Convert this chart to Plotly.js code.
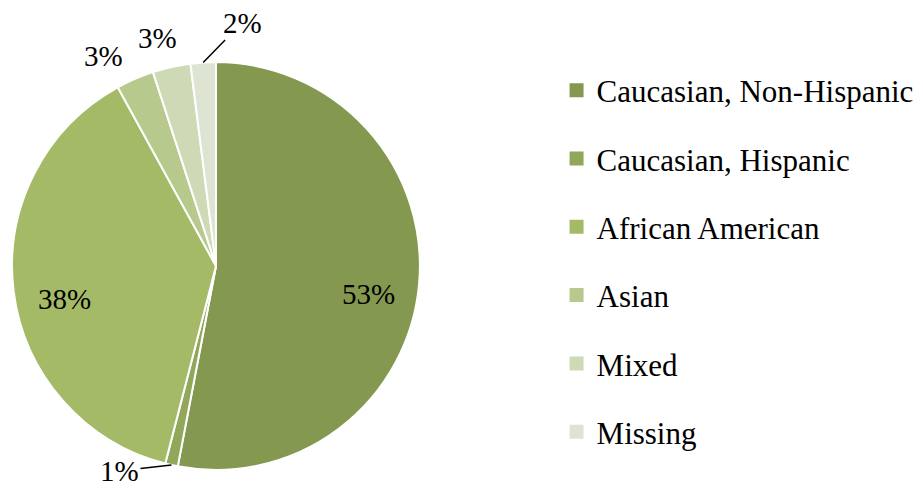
<!DOCTYPE html>
<html><head><meta charset="utf-8">
<script src="https://cdn.plot.ly/plotly-3.0.1.min.js"></script>
<style>html,body{margin:0;padding:0;background:#fff}#chart{width:923px;height:489px}</style>
</head><body><div id="chart"></div>
<script>
const categories = ["Caucasian, Non-Hispanic","Caucasian, Hispanic","African American","Asian","Mixed","Missing"];
const values = [53, 1, 38, 3, 3, 2];
const colors = ["#84994F","#92A75A","#A5BA67","#B7C98D","#CDDAB5","#DDE5D2"];
const labelPlacement = ["inside","outside","inside","outside","outside","outside"];
// pixel offsets of outside labels from slice edge (style only)
const labelOffsets = [[0,0],[-52,6],[0,0],[-31,-23],[-14,-29],[39,-40]];
const leaderLine = [false,true,false,false,false,true];

const W = 923, H = 489;
const serif = "Liberation Serif, Times New Roman, serif";
const dom = {x: [0.013, 0.455], y: [0.039, 0.873]};
const cx = (dom.x[0] + dom.x[1]) / 2 * W;
const cy = (1 - (dom.y[0] + dom.y[1]) / 2) * H;
const R = Math.min((dom.x[1]-dom.x[0])*W, (dom.y[1]-dom.y[0])*H) / 2;

const total = values.reduce((a, b) => a + b, 0);
const annotations = [];
let cum = 0;
values.forEach((v, i) => {
  const mid = (cum + v / 2) / total * 2 * Math.PI; // clockwise from 12 o'clock
  cum += v;
  const sx = Math.sin(mid), sy = -Math.cos(mid);
  const txt = v + "%";
  const f = {family: serif, size: 29, color: "#000"};
  if (labelPlacement[i] === "inside") {
    const px = cx + 0.75 * R * sx, py = cy + 0.75 * R * sy + 14;
    annotations.push({xref: "paper", yref: "paper", x: px / W, y: 1 - py / H,
      text: txt, showarrow: false, xanchor: "center", yanchor: "middle", font: f});
  } else {
    const px = cx + R * sx, py = cy + R * sy;
    annotations.push({xref: "paper", yref: "paper", x: px / W, y: 1 - py / H,
      text: txt, showarrow: true, arrowhead: 0, arrowwidth: 1.5,
      arrowcolor: leaderLine[i] ? "#000" : "rgba(0,0,0,0)",
      ax: labelOffsets[i][0], ay: labelOffsets[i][1], standoff: 0, font: f});
  }
});

const traces = [{
  type: "pie", labels: categories, values: values, sort: false,
  direction: "clockwise", rotation: 0,
  marker: {colors: colors, line: {color: "#ffffff", width: 2}},
  textinfo: "none", showlegend: false, hoverinfo: "label+percent", domain: dom
}];
categories.forEach((c, i) => {
  traces.push({type: "scatter", mode: "markers", x: [null], y: [null],
    name: c, legendgroup: "g" + i,
    marker: {symbol: "square", size: 14, color: colors[i]}, hoverinfo: "skip"});
});
const layout = {
  width: W, height: H, margin: {l: 0, r: 0, t: 0, b: 0},
  paper_bgcolor: "#fff", plot_bgcolor: "rgba(0,0,0,0)",
  xaxis: {visible: false}, yaxis: {visible: false},
  showlegend: true, annotations: annotations,
  legend: {x: 0.603, xanchor: "left", y: 0.87, yanchor: "top",
    font: {family: serif, size: 31, color: "#000"},
    tracegroupgap: 25, bgcolor: "rgba(0,0,0,0)", traceorder: "grouped"}
};
Plotly.newPlot("chart", traces, layout, {displayModeBar: false, staticPlot: true});
</script></body></html>
